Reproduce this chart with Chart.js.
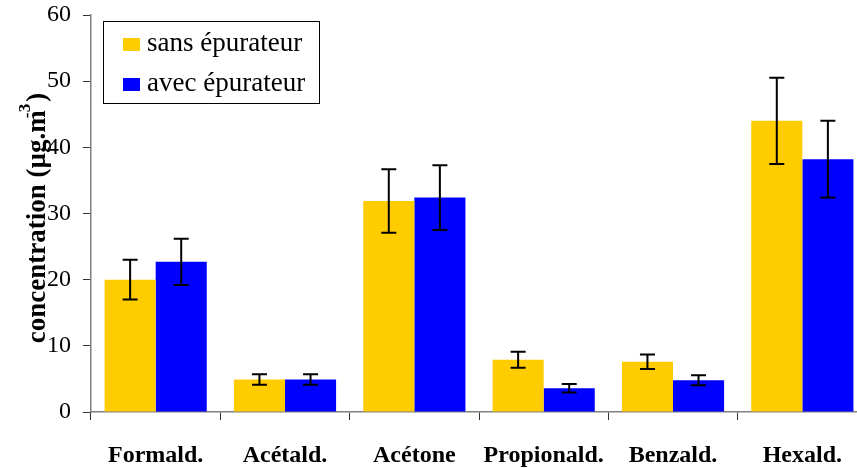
<!DOCTYPE html>
<html>
<head>
<meta charset="utf-8">
<script src="https://cdn.jsdelivr.net/npm/chart.js@4.4.1/dist/chart.umd.min.js"></script>
<style>
  html, body { margin: 0; padding: 0; background: #fff; overflow: hidden; }
  #wrap { width: 870px; height: 468px; }
</style>
</head>
<body>
<div id="wrap"><canvas id="c" width="870" height="468"></canvas></div>
<script>
const categories = ['Formald.', 'Acétald.', 'Acétone', 'Propionald.', 'Benzald.', 'Hexald.'];
const sansLabel = 'sans épurateur';
const avecLabel = 'avec épurateur';
const sansValues = [20.0, 4.9, 31.9, 7.9, 7.6, 44.0];
const sansErrors = [3.0, 0.8, 4.8, 1.2, 1.1, 6.5];
const avecValues = [22.7, 4.9, 32.4, 3.6, 4.8, 38.2];
const avecErrors = [3.5, 0.8, 4.9, 0.65, 0.75, 5.8];
const yTicks = [0, 10, 20, 30, 40, 50, 60];
const yTitle = 'concentration (µg.m';
const yTitleSup = '-3';
const yTitleEnd = ')';

const SERIF = '"Liberation Serif", "Times New Roman", serif';

const errorBars = {
  id: 'errorBars',
  afterDatasetsDraw(chart) {
    const ctx = chart.ctx;
    const ys = chart.scales.y;
    chart.data.datasets.forEach((ds, di) => {
      const meta = chart.getDatasetMeta(di);
      meta.data.forEach((bar, i) => {
        const v = ds.data[i], e = ds.errors[i];
        const yt = ys.getPixelForValue(v + e);
        const yb = ys.getPixelForValue(v - e);
        const x = bar.x;
        ctx.save();
        ctx.strokeStyle = '#000';
        ctx.lineWidth = 2;
        ctx.beginPath();
        ctx.moveTo(x, yt); ctx.lineTo(x, yb);
        ctx.moveTo(x - 7.5, yt); ctx.lineTo(x + 7.5, yt);
        ctx.moveTo(x - 7.5, yb); ctx.lineTo(x + 7.5, yb);
        ctx.stroke();
        ctx.restore();
      });
    });
  }
};

const boxLegend = {
  id: 'boxLegend',
  afterDraw(chart) {
    const ctx = chart.ctx;
    ctx.save();
    ctx.fillStyle = '#fff';
    ctx.fillRect(103.5, 21.5, 216, 82);
    ctx.strokeStyle = '#000';
    ctx.lineWidth = 1;
    ctx.strokeRect(103.5, 21.5, 216, 82);
    ctx.font = '27px ' + SERIF;
    ctx.textBaseline = 'alphabetic';
    ctx.textAlign = 'left';
    const rows = [51, 91];
    chart.data.datasets.forEach((ds, i) => {
      const base = rows[i];
      ctx.fillStyle = ds.backgroundColor;
      ctx.fillRect(123, base - 13, 17, 13);
      ctx.fillStyle = '#000';
      ctx.fillText(ds.label, 147, base);
    });
    ctx.restore();
  }
};

const yAxisTitle = {
  id: 'yAxisTitle',
  afterDraw(chart) {
    const ctx = chart.ctx;
    ctx.save();
    ctx.translate(45, 218);
    ctx.rotate(-Math.PI / 2);
    ctx.fillStyle = '#000';
    ctx.textBaseline = 'alphabetic';
    const big = 'bold 27px ' + SERIF;
    const small = 'bold 17px ' + SERIF;
    ctx.font = big;
    const w1 = ctx.measureText(yTitle).width;
    const w3 = ctx.measureText(yTitleEnd).width;
    ctx.font = small;
    const w2 = ctx.measureText('3').width;
    const total = w1 + w2 + w3;
    let x = -total / 2;
    ctx.font = big;
    ctx.textAlign = 'left';
    ctx.fillText(yTitle, x, 0);
    x += w1;
    ctx.font = small;
    ctx.fillText('3', x - 2, -15);
    ctx.fillText('-', x - 8, -13);
    x += w2;
    ctx.font = big;
    ctx.fillText(yTitleEnd, x, 0);
    ctx.restore();
  }
};

new Chart(document.getElementById('c'), {
  type: 'bar',
  data: {
    labels: categories,
    datasets: [
      { label: sansLabel, data: sansValues, errors: sansErrors, backgroundColor: '#FFCC00', borderWidth: 0 },
      { label: avecLabel, data: avecValues, errors: avecErrors, backgroundColor: '#0000FF', borderWidth: 0 }
    ]
  },
  options: {
    responsive: false,
    animation: false,
    devicePixelRatio: 1,
    layout: { padding: { top: 15, right: 3, left: 0, bottom: 0 } },
    datasets: { bar: { barPercentage: 1.0, categoryPercentage: 0.79 } },
    plugins: {
      legend: { display: false },
      tooltip: { enabled: false },
      title: { display: false }
    },
    scales: {
      x: {
        offset: true,
        afterFit(scale) { scale.height = 56; scale.paddingLeft = 0; scale.paddingRight = 0; },
        grid: {
          offset: true,
          drawOnChartArea: false,
          drawTicks: true,
          tickLength: 8,
          color: '#333',
          lineWidth: 1
        },
        border: { display: true, color: '#808080', width: 1.5 },
        ticks: {
          color: '#000',
          padding: 21,
          maxRotation: 0,
          autoSkip: false,
          font: { family: SERIF, size: 24, weight: 'bold' }
        }
      },
      y: {
        min: 0,
        max: 60,
        afterFit(scale) { scale.width = 91; scale.paddingTop = 0; scale.paddingBottom = 0; },
        afterBuildTicks(scale) { scale.ticks = yTicks.map(v => ({ value: v })); },
        grid: {
          drawOnChartArea: false,
          drawTicks: true,
          tickLength: 8,
          color: '#333'
        },
        border: { display: true, color: '#808080', width: 1.5 },
        ticks: {
          color: '#000',
          padding: 12,
          font: { family: SERIF, size: 24 }
        }
      }
    }
  },
  plugins: [errorBars, boxLegend, yAxisTitle]
});
</script>
</body>
</html>
